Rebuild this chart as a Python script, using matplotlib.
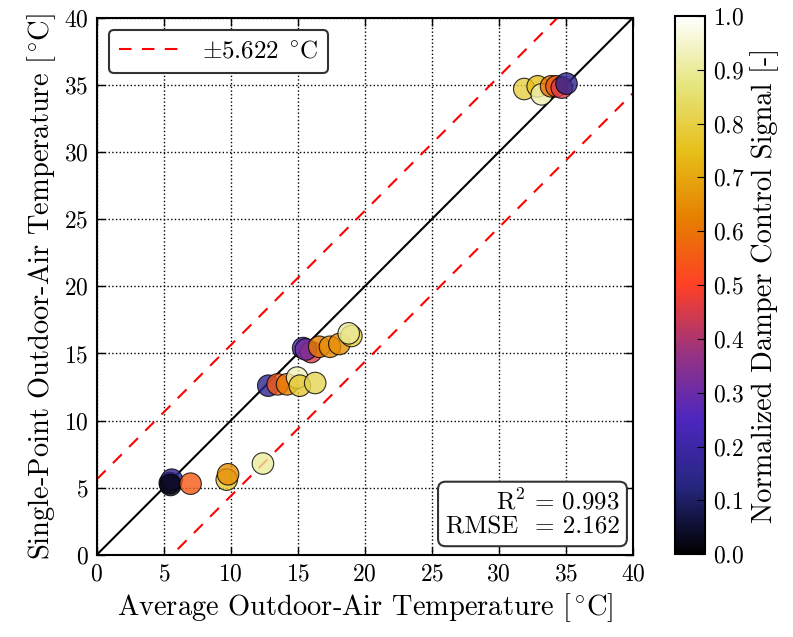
import numpy as np
import matplotlib
matplotlib.use("Agg")
import matplotlib.pyplot as plt

plt.rcParams['font.family'] = 'serif'
plt.rcParams['font.serif'] = ['cmr10']
plt.rcParams['mathtext.fontset'] = 'cm'
plt.rcParams['axes.formatter.use_mathtext'] = True

# average vs single-point outdoor-air temperature, damper signal
avg_temp = [5.45, 5.6, 5.5, 7.0, 9.7, 9.8, 12.4,
            12.8, 13.5, 14.2, 14.95, 15.15, 16.3,
            15.4, 16.0, 15.6, 16.6, 17.4, 18.1, 19.0, 18.8,
            31.9, 32.9, 33.2, 33.9, 34.3, 34.7, 35.05]
single_temp = [5.35, 5.6, 5.2, 5.3, 5.6, 6.0, 6.8,
               12.6, 12.7, 12.7, 13.2, 12.6, 12.8,
               15.4, 15.1, 15.3, 15.5, 15.5, 15.7, 16.3, 16.5,
               34.7, 34.9, 34.3, 34.9, 34.9, 34.8, 35.1]
damper = [0.05, 0.15, 0.02, 0.55, 0.78, 0.65, 0.9,
          0.15, 0.55, 0.62, 0.93, 0.78, 0.82,
          0.2, 0.45, 0.32, 0.62, 0.65, 0.65, 0.8, 0.9,
          0.8, 0.75, 0.92, 0.6, 0.55, 0.45, 0.15]

band = 5.622
r2 = 0.993
rmse = 2.162

fig = plt.figure(figsize=(7.93, 6.37), dpi=100)
ax = fig.add_axes([0.122, 0.129, 0.676, 0.843])
cax = fig.add_axes([0.851, 0.130, 0.038, 0.845])

lims = np.array([0, 40])
ax.plot(lims, lims, color='k', lw=1.5, zorder=2)
ax.plot(lims, lims + band, color='r', lw=1.5, dashes=(6, 5),
        label=r'$\pm5.622\ ^\circ\!$C', zorder=2)
ax.plot(lims, lims - band, color='r', lw=1.5, dashes=(6, 5), zorder=2)

sc = ax.scatter(avg_temp, single_temp, c=damper, cmap='CMRmap', vmin=0, vmax=1,
                s=240, edgecolors='k', linewidths=0.8, alpha=0.8, zorder=3)

ax.set_xlim(0, 40)
ax.set_ylim(0, 40)
ax.set_xticks(range(0, 41, 5))
ax.set_yticks(range(0, 41, 5))
ax.grid(True, color='k', linestyle=':', lw=1)
ax.tick_params(direction='in', top=True, right=True, labelsize=17, length=6, width=1, pad=6)
for s in ax.spines.values():
    s.set_linewidth(1.5)

ax.set_xlabel(r'Average Outdoor-Air Temperature [$^\circ\!$C]', fontsize=20.5)
ax.set_ylabel(r'Single-Point Outdoor-Air Temperature [$^\circ\!$C]', fontsize=20.5)

leg = ax.legend(loc='upper left', fontsize=18, fancybox=True, framealpha=1,
                handlelength=2.5)
leg.get_frame().set_edgecolor('0.2')
leg.get_frame().set_linewidth(1.5)

ax.text(0.975, 0.03, 'R$^2$ = %.3f\nRMSE  = %.3f' % (r2, rmse),
        transform=ax.transAxes, ha='right', va='bottom', fontsize=18,
        multialignment='right', linespacing=1.1,
        bbox=dict(boxstyle='round,pad=0.3', fc='w', ec='0.2', lw=1.5))

cb = fig.colorbar(sc, cax=cax)
cb.solids.set_alpha(1)
cb.set_ticks(np.arange(0, 1.01, 0.1))
cb.ax.tick_params(direction='in', labelsize=17, length=6, pad=6)
cb.outline.set_linewidth(1.5)
cb.set_label('Normalized Damper Control Signal [-]', fontsize=20.5)

fig.savefig('out.png', dpi=100)
